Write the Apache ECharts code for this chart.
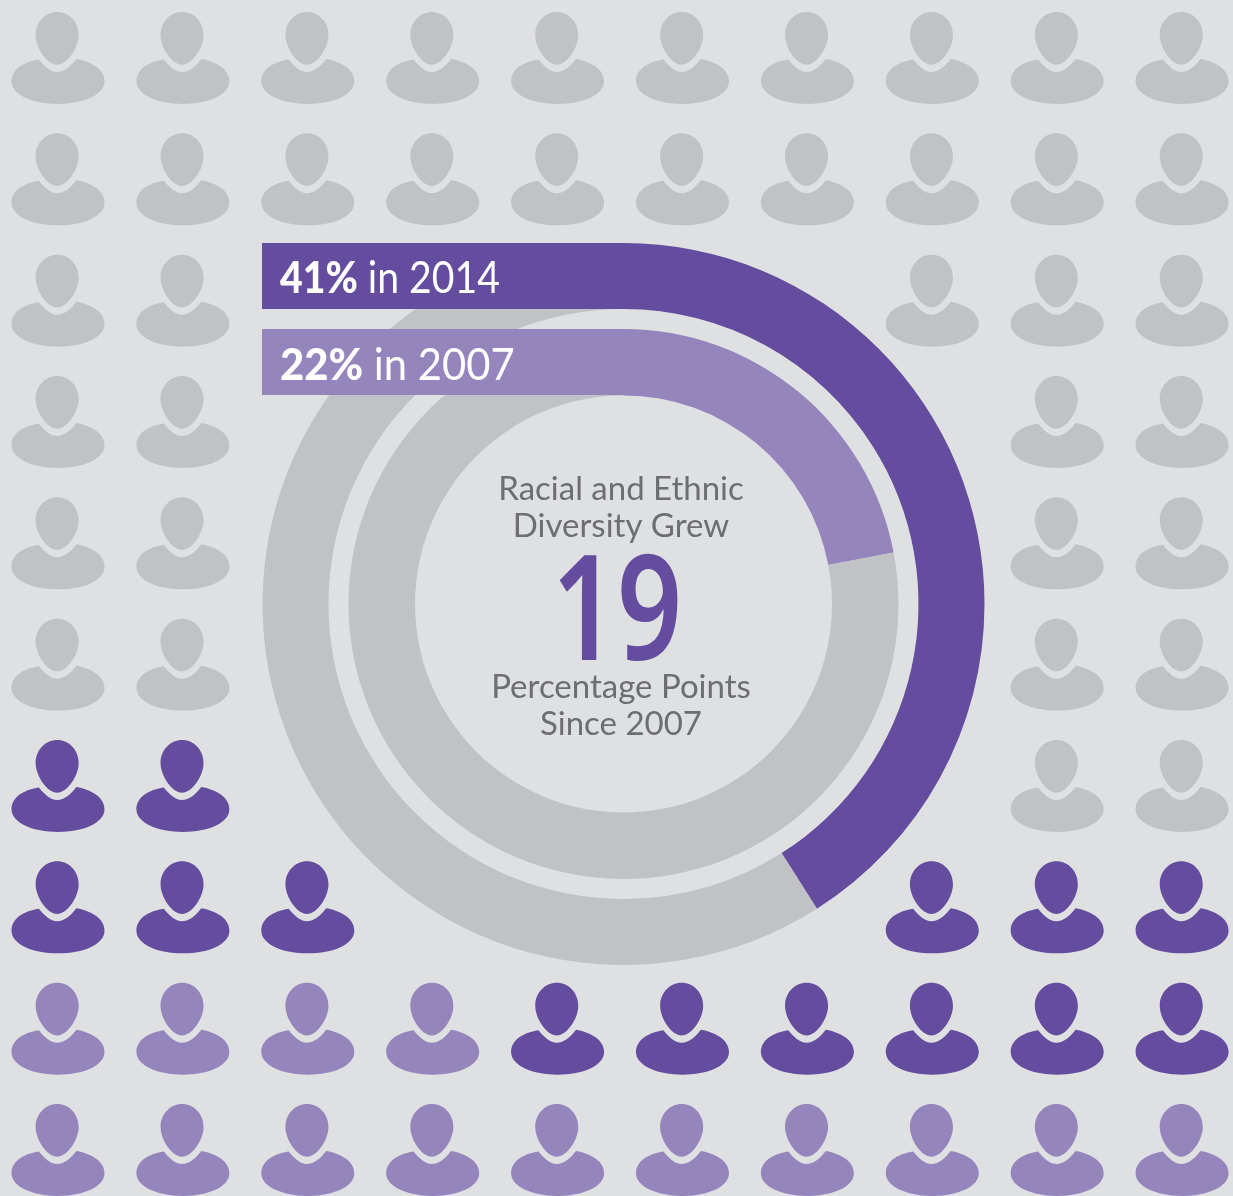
<!DOCTYPE html>
<html><head><meta charset="utf-8">
<style>html,body{margin:0;padding:0;background:#dfe0e2}#c{width:1233px;height:1196px}</style>
<script src="https://cdn.jsdelivr.net/npm/echarts@6/dist/echarts.min.js"></script>
</head><body><div id="c"></div>
<script>
// 0 empty (behind the rings), 1 grey, 2 share 2014, 3 share 2007
const row0 = [1,1,1,1,1,1,1,1,1,1];
const row1 = [1,1,1,1,1,1,1,1,1,1];
const row2 = [1,1,0,0,0,0,0,1,1,1];
const row3 = [1,1,0,0,0,0,0,0,1,1];
const row4 = [1,1,0,0,0,0,0,0,1,1];
const row5 = [1,1,0,0,0,0,0,0,1,1];
const row6 = [2,2,0,0,0,0,0,0,1,1];
const row7 = [2,2,2,0,0,0,0,2,2,2];
const row8 = [3,3,3,3,2,2,2,2,2,2];
const row9 = [3,3,3,3,3,3,3,3,3,3];
const rows = [row0,row1,row2,row3,row4,row5,row6,row7,row8,row9];
const share2014 = 41, share2007 = 22, total = 100;
const label2014 = ['41%',' in 2014'], label2007 = ['22%',' in 2007'];
const centerTop = ['Racial and Ethnic','Diversity Grew'];
const centerValue = '19';
const centerBottom = ['Percentage Points','Since 2007'];

const DARK='#644d9e', LIGHT='#9585bd', GREY='#c1c2c5', BG='#dfe0e2', TEXT='#6d6e71';
const FONT='Lato';
const person='path://M46 0C58 0 67.6 10 67.6 23C67.6 36 56 52.7 46 52.7C36 52.7 24.3 36 24.3 23C24.3 10 34 0 46 0Z'
 +'M27.6 47.5C33 54 39 60 46 60C53 60 60 54 65.3 47C82 50 93.6 58 93.6 69.3C93.6 83 72 92 46.8 92C22 92 0 83 0 69.3C0 58 11 50 27.6 47.5Z';

function cells(code){const o=[];rows.forEach((r,y)=>r.forEach((v,x)=>{if(v===code)o.push([x,y]);}));return o;}
function people(code,color){return {type:'scatter',silent:true,symbol:person,symbolSize:[93,92],
  data:cells(code),itemStyle:{color:color,opacity:1},z:1};}
function ring(value,radius,color){return {type:'pie',silent:true,center:[623.5,604],radius:radius,startAngle:90,clockwise:true,
  label:{show:false},labelLine:{show:false},animation:false,z:2,
  data:[{value:value,itemStyle:{color:color}},{value:total-value,itemStyle:{color:GREY}}]};}
function line(t,y,size,color){return {type:'text',z:10,silent:true,
  style:{text:t,x:621,y:y,align:'center',verticalAlign:'middle',fill:color,font:'400 '+size+'px '+FONT}};}
function banner(y,color,parts,size,sx,dy){return [
  {type:'rect',z:5,silent:true,shape:{x:262,y:y,width:363,height:66},style:{fill:color}},
  {type:'text',z:6,silent:true,x:280,y:y+dy,scaleX:sx,style:{x:0,y:0,verticalAlign:'middle',align:'left',
    text:'{b|'+parts[0]+'}{r|'+parts[1]+'}',fill:'#fff',
    rich:{b:{fontFamily:FONT,fontWeight:900,fontSize:size,fill:'#fff',color:'#fff'},r:{fontFamily:FONT,fontWeight:400,fontSize:size,fill:'#fff',color:'#fff'}}}}
];}

const chart=echarts.init(document.getElementById('c'),null,{renderer:'canvas'});
chart.setOption({
  animation:false,backgroundColor:BG,
  grid:{left:0,right:0,top:0,bottom:0},
  xAxis:{type:'value',show:false,min:-0.4644,max:9.4075},
  yAxis:{type:'value',show:false,inverse:true,min:-0.478,max:9.379},
  series:[people(1,GREY),people(2,DARK),people(3,LIGHT),
    ring(share2014,[295,361],DARK),ring(share2007,[208.5,275],LIGHT)],
  graphic:[].concat(
    banner(243,DARK,label2014,44,0.89,36),banner(329,LIGHT,label2007,44,0.95,37),
    [line(centerTop[0],489,33,TEXT),line(centerTop[1],526,33,TEXT),
     line(centerBottom[0],687,33,TEXT),line(centerBottom[1],724,33,TEXT),
     {type:'text',z:10,silent:true,x:617,y:618,scaleX:0.78,
      style:{text:centerValue,x:0,y:0,align:'center',verticalAlign:'middle',fill:DARK,font:'600 146px "Noto Sans"'}}])
});
</script></body></html>
